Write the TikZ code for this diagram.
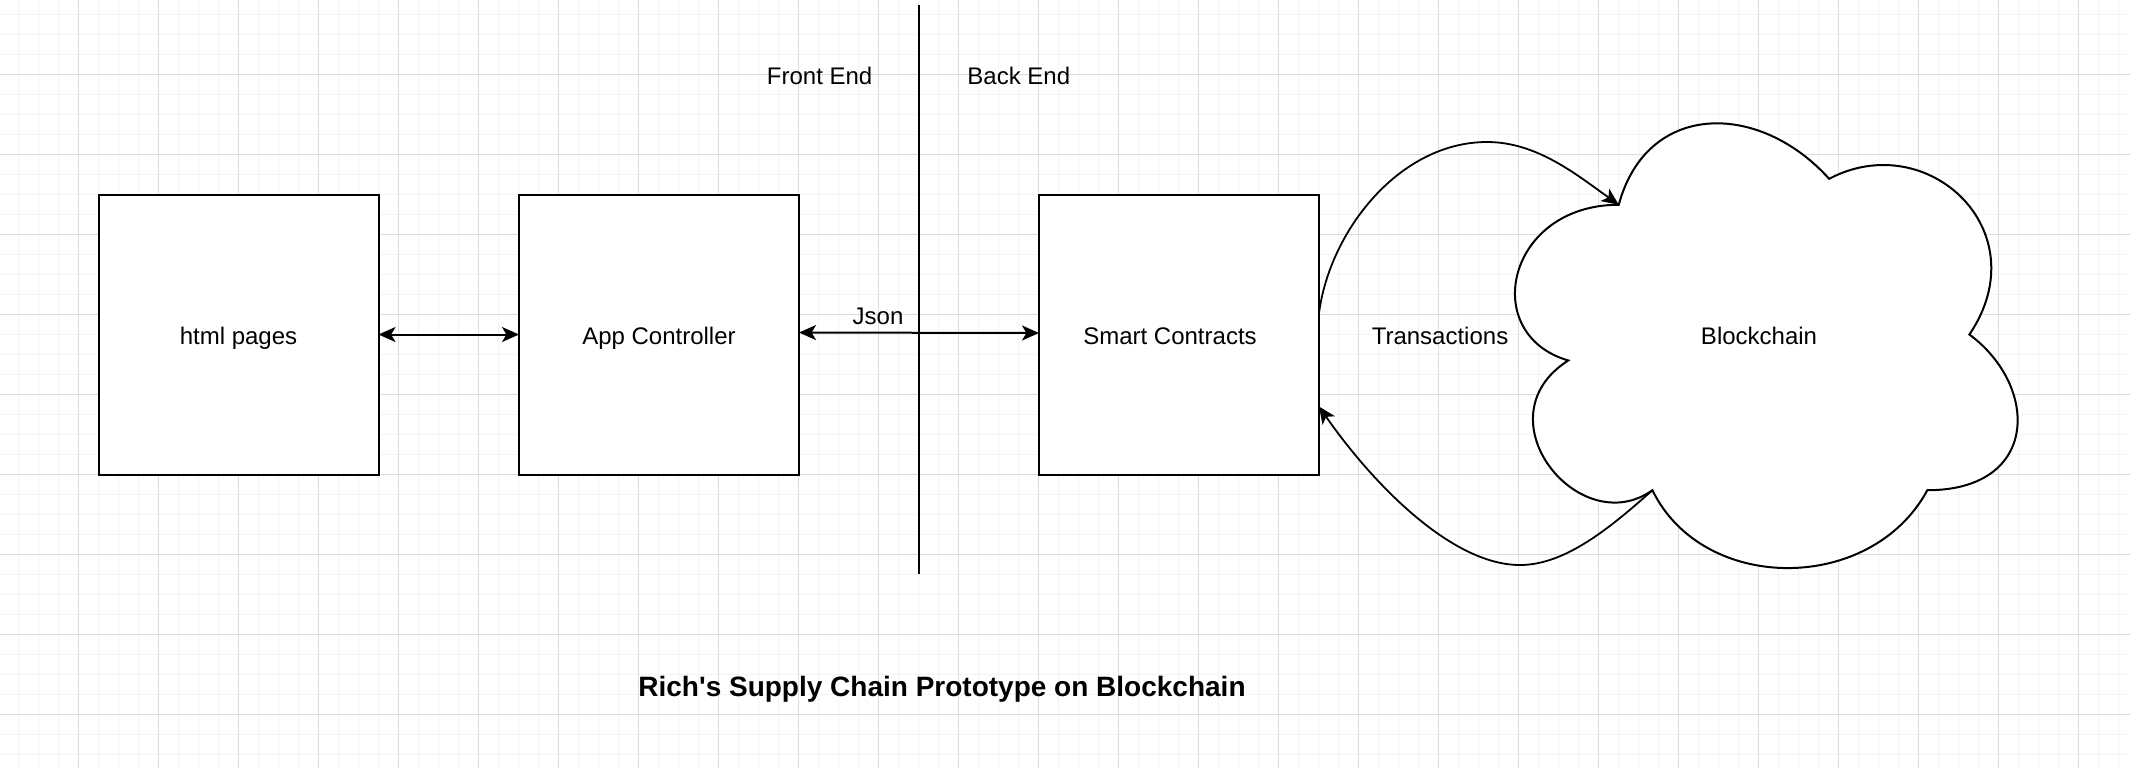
\documentclass[tikz,border=0pt]{standalone}
\usepackage{fontspec}
\setmainfont{Liberation Sans}
\usetikzlibrary{arrows.meta}
\definecolor{gmin}{HTML}{F4F4F4}
\definecolor{gmaj}{HTML}{DCDCDC}
\tikzset{
  >={Stealth[length=8.5pt,width=7.5pt,inset=2.2pt]},
  lbl/.style={font=\fontsize{12}{14}\selectfont, inner sep=0pt},
  boxlbl/.style={lbl, text height=9.6pt, text depth=0pt},
  ttl/.style={font=\fontsize{14}{17}\selectfont\bfseries, inner sep=0pt},
  box/.style={draw=black, fill=white, line width=1pt, minimum width=140pt, minimum height=140pt, inner sep=0pt, outer sep=0pt, boxlbl},
  biarr/.style={line width=1pt, <->},
  curvarr/.style={line width=0.9pt, ->},
  divider/.style={line width=1pt},
  cloudshape/.style={draw=black, fill=white, line width=1pt},
  gridminor/.style={draw=gmin, line width=0.8pt},
  gridmajor/.style={draw=gmaj, line width=0.5pt},
}
\begin{document}
\begin{tikzpicture}[x=0.5pt,y=-0.5pt]
\useasboundingbox (0,0) rectangle (2130,768);
\fill[white] (0,0) rectangle (2130,768);
% grid
\foreach \i in {0,...,106} \draw[gridminor] ({18.3+20*\i},0) -- ++(0,768);
\foreach \j in {0,...,38} \draw[gridminor] (0,{14.3+20*\j}) -- ++(2130,0);
\foreach \i in {0,...,25} \draw[gridmajor] ({78.3+80*\i},0) -- ++(0,768);
\foreach \j in {0,...,8} \draw[gridmajor] (0,{74.3+80*\j}) -- ++(2130,0);

% divider
\coordinate (vt) at (919,5);
\coordinate (vb) at (919,574);
\draw[divider] (vt) -- (vb);

% boxes
\node[box] (html) at (238.5,334.5) {html pages};
\node[box] (app) at (659,334.5) {App Controller};
\node[box, label={[boxlbl, xshift=-4.5pt]center:Smart Contracts}] (sc) at (1179,335) {};

% cloud
\begin{scope}[shift={(1478.5,75)}, x=280.5pt, y=-259.5pt]
\draw[cloudshape] (0.25,0.25) .. controls (0.05,0.25) and (0,0.5) .. (0.16,0.55)
  .. controls (0,0.66) and (0.18,0.9) .. (0.31,0.8)
  .. controls (0.4,1) and (0.7,1) .. (0.8,0.8)
  .. controls (1,0.8) and (1,0.6) .. (0.875,0.5)
  .. controls (1,0.3) and (0.8,0.1) .. (0.625,0.2)
  .. controls (0.5,0.05) and (0.3,0.05) .. (0.25,0.25) -- cycle;
\coordinate (cTL) at (0.25,0.25);
\coordinate (cBL) at (0.31,0.8);
\node[boxlbl] (bc) at (0.5,0.5) {Blockchain};
\end{scope}

% texts
\node[lbl] (fe) at (819.6,76) {Front End};
\node[lbl] (be) at (1018.8,76) {Back End};
\node[lbl] (json) at (878,316.7) {Json};
\node[lbl] (tx) at (1440,335.5) {Transactions};
\node[ttl] (title) at (942,689.6) {Rich\textquotesingle s Supply Chain Prototype on Blockchain};

% connectors
\draw[biarr] (html.east) -- (app.west);
\draw[biarr] ([yshift=1pt]app.east) -- ([yshift=1pt]sc.west);
\draw[curvarr] ([yshift=11pt]sc.east) .. controls (1330,230) and (1400,142) .. (1487,142)
  .. controls (1537,142) and (1577,175) .. (cTL);
\draw[curvarr] (cBL) .. controls (1610,528) and (1565,565) .. (1520,565)
  .. controls (1450,565) and (1370,480) .. ([yshift=-35.75pt]sc.east);
\end{tikzpicture}
\end{document}
